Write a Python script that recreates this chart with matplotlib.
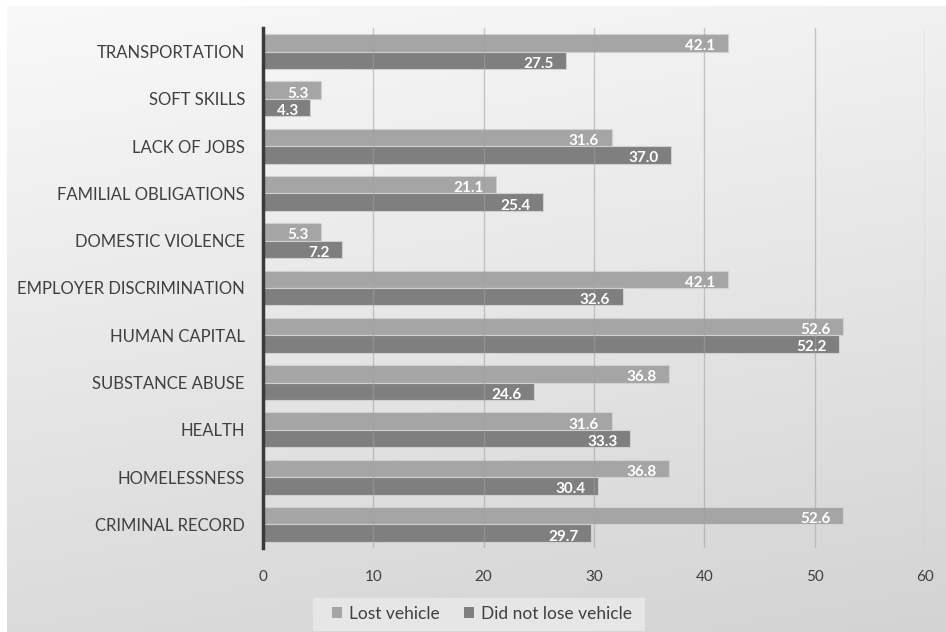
import numpy as np
import matplotlib
matplotlib.use("Agg")
import matplotlib.pyplot as plt
from matplotlib.patches import Patch, Rectangle

categories = [
    "TRANSPORTATION", "SOFT SKILLS", "LACK OF JOBS", "FAMILIAL OBLIGATIONS",
    "DOMESTIC VIOLENCE", "EMPLOYER DISCRIMINATION", "HUMAN CAPITAL",
    "SUBSTANCE ABUSE", "HEALTH", "HOMELESSNESS", "CRIMINAL RECORD",
]
lost_vehicle = [42.1, 5.3, 31.6, 21.1, 5.3, 42.1, 52.6, 36.8, 31.6, 36.8, 52.6]
kept_vehicle = [27.5, 4.3, 37.0, 25.4, 7.2, 32.6, 52.2, 24.6, 33.3, 30.4, 29.7]
x_ticks = [0, 10, 20, 30, 40, 50, 60]
series_names = ["Lost vehicle", "Did not lose vehicle"]

FONT = "Lato"
LIGHT = "#a5a5a5"
DARK = "#7f7f7f"
TEXT = "#404040"

fig = plt.figure(figsize=(9.46, 6.32), dpi=100)
fig.patch.set_facecolor("white")

# soft gray gradient panel behind everything
bg = fig.add_axes([7 / 946, 0, 1 - 7 / 946, 1 - 6 / 632], zorder=-10)
h, w = 200, 300
yy, xx = np.mgrid[0:h, 0:w]
vals = (249 - 30 * (yy / (h - 1)) - 8 * (xx / (w - 1))) / 255.0
bg.imshow(np.dstack([vals, vals, vals]), aspect="auto", extent=[0, 1, 0, 1],
          origin="upper", interpolation="bilinear")
bg.set_axis_off()

ax = fig.add_axes([263 / 946, 1 - 548 / 632, (925 - 263) / 946, (548 - 28) / 632])
ax.set_facecolor("none")

n = len(categories)
pos = np.arange(n)
bh = 0.37

bars_lost = ax.barh(pos - bh / 2, lost_vehicle, height=bh, color=LIGHT,
                    edgecolor="#d0d0d0", linewidth=0.8, zorder=2)
bars_kept = ax.barh(pos + bh / 2, kept_vehicle, height=bh, color=DARK,
                    edgecolor="#d0d0d0", linewidth=0.8, zorder=2)

for bars, vals_ in ((bars_lost, lost_vehicle), (bars_kept, kept_vehicle)):
    for b, v in zip(bars, vals_):
        yc = b.get_y() + b.get_height() / 2
        ax.annotate(f"{v:.1f}", xy=(v, yc), xytext=(-9, -2.5),
                    textcoords="offset points", ha="right", va="center",
                    color="white", fontsize=11, fontweight="bold",
                    family=FONT, zorder=4)

ax.set_xlim(0, 60)
ax.set_ylim(n - 0.5, -0.5)
ax.set_xticks(x_ticks)
ax.set_xticklabels([str(t) for t in x_ticks], family=FONT, fontsize=11, color=TEXT)
ax.set_yticks(pos)
ax.set_yticklabels(categories, family=FONT, fontsize=12, color=TEXT)
ax.tick_params(axis="x", length=0, pad=16)
ax.tick_params(axis="y", length=0, pad=13)

for t in x_ticks[1:]:
    ax.axvline(t, color="#a0a0a0", linewidth=1.0, alpha=0.55, zorder=3)

for s in ("top", "right", "bottom"):
    ax.spines[s].set_visible(False)
ax.spines["left"].set_color("#3a3a3a")
ax.spines["left"].set_linewidth(2.5)
ax.spines["left"].set_zorder(5)

# legend panel
fig.patches.append(Rectangle((313 / 946, 1 - 631 / 632), (645 - 313) / 946, 33 / 632,
                             transform=fig.transFigure, facecolor="#e6e6e6",
                             edgecolor="none", zorder=-5))
handles = [Patch(facecolor=LIGHT, edgecolor="none"), Patch(facecolor=DARK, edgecolor="none")]
leg = fig.legend(handles, series_names, loc="center",
                 bbox_to_anchor=(482 / 946, 1 - 614 / 632), ncol=2, frameon=False,
                 prop={"family": FONT, "size": 12.5}, handlelength=0.6, handleheight=0.6,
                 handletextpad=0.4, columnspacing=1.4, labelcolor=TEXT)

fig.savefig("out.png", dpi=100)
